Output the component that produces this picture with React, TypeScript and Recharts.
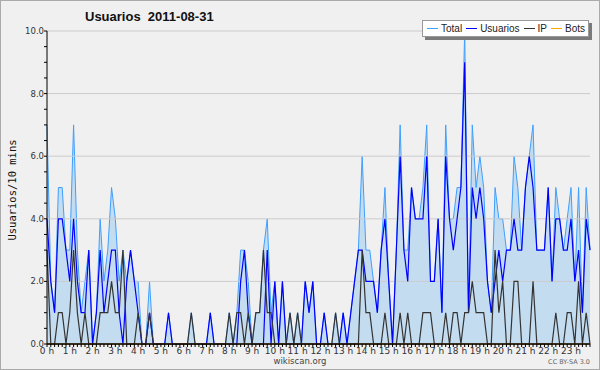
import React from 'react';
import { ComposedChart, Area, Line, XAxis, YAxis, ReferenceLine } from 'recharts';

// 10-minute buckets, 144 per day
const total = [
  7, 2, 1, 5, 5, 3, 3, 7, 3, 1, 2, 3, 0, 1, 4, 2, 3, 5, 4, 2, 3, 2, 3, 2,
  2, 0, 0, 2, 0, 0, 0, 0, 1, 0, 0, 0, 0, 0, 1, 0, 0, 0, 0, 1, 0, 0, 0, 0,
  1, 0, 1, 3, 3, 2, 0, 1, 1, 3, 4, 1, 2, 0, 2, 0, 1, 0, 1, 0, 2, 1, 2, 0,
  0, 1, 0, 0, 1, 0, 1, 0, 1, 2, 3, 6, 3, 3, 2, 1, 3, 5, 2, 0, 3, 7, 3, 3,
  5, 4, 4, 5, 7, 2, 2, 4, 1, 7, 4, 4, 5, 5, 10, 1, 7, 5, 6, 5, 2, 1, 5, 4,
  4, 3, 3, 6, 5, 3, 5, 6, 7, 3, 3, 3, 5, 2, 5, 4, 3, 4, 5, 2, 5, 1, 5, 3,
];
const usuarios = [
  4, 2, 1, 4, 4, 3, 2, 4, 2, 1, 1, 3, 0, 1, 3, 1, 2, 3, 3, 1, 0, 2, 3, 2,
  1, 0, 0, 1, 0, 0, 0, 0, 1, 0, 0, 0, 0, 0, 0, 0, 0, 0, 0, 1, 0, 0, 0, 0,
  0, 0, 0, 2, 3, 1, 0, 0, 0, 0, 3, 0, 2, 0, 2, 0, 0, 0, 0, 0, 2, 1, 2, 0,
  0, 1, 0, 0, 0, 0, 1, 0, 1, 2, 3, 3, 2, 2, 2, 1, 3, 4, 2, 0, 3, 6, 3, 2,
  5, 4, 4, 4, 6, 2, 2, 4, 1, 6, 4, 3, 4, 5, 9, 1, 5, 4, 5, 4, 2, 1, 2, 3,
  2, 3, 3, 4, 3, 3, 5, 6, 5, 3, 3, 3, 5, 2, 4, 4, 3, 3, 4, 2, 3, 1, 4, 3,
];
const ip = [
  3, 0, 0, 1, 1, 0, 1, 3, 1, 0, 1, 0, 0, 0, 1, 1, 1, 2, 1, 1, 3, 0, 0, 0,
  1, 0, 0, 1, 0, 0, 0, 0, 0, 0, 0, 0, 0, 0, 1, 0, 0, 0, 0, 0, 0, 0, 0, 0,
  1, 0, 1, 1, 0, 1, 0, 1, 1, 3, 1, 1, 0, 0, 0, 0, 1, 0, 1, 0, 0, 0, 0, 0,
  0, 0, 0, 0, 1, 0, 0, 0, 0, 0, 0, 3, 1, 1, 0, 0, 0, 1, 0, 0, 0, 1, 0, 1,
  0, 0, 0, 1, 1, 1, 0, 0, 0, 1, 0, 1, 1, 0, 1, 1, 2, 1, 1, 1, 0, 0, 3, 1,
  2, 0, 0, 2, 2, 0, 0, 0, 2, 0, 0, 0, 0, 0, 1, 0, 0, 1, 1, 0, 2, 0, 1, 0,
];
const bots = [
  0, 0, 0, 0, 0, 0, 0, 0, 0, 0, 0, 0, 0, 0, 0, 0, 0, 0, 0, 0, 0, 0, 0, 0,
  0, 0, 0, 0, 0, 0, 0, 0, 0, 0, 0, 0, 0, 0, 0, 0, 0, 0, 0, 0, 0, 0, 0, 0,
  0, 0, 0, 0, 0, 0, 0, 0, 0, 0, 0, 0, 0, 0, 0, 0, 0, 0, 0, 0, 0, 0, 0, 0,
  0, 0, 0, 0, 0, 0, 0, 0, 0, 0, 0, 0, 0, 0, 0, 0, 0, 0, 0, 0, 0, 0, 0, 0,
  0, 0, 0, 0, 0, 0, 0, 0, 0, 0, 0, 0, 0, 0, 0, 0, 0, 0, 0, 0, 0, 0, 0, 0,
  0, 0, 0, 0, 0, 0, 0, 0, 0, 0, 0, 0, 0, 0, 0, 0, 0, 0, 0, 0, 0, 0, 0, 0,
];

const hourLabels = [
  '0 h', '1 h', '2 h', '3 h', '4 h', '5 h', '6 h', '7 h', '8 h', '9 h', '10 h', '11 h',
  '12 h', '13 h', '14 h', '15 h', '16 h', '17 h', '18 h', '19 h', '20 h', '21 h', '22 h', '23 h',
];
const yTicks = [0, 0.5, 1, 1.5, 2, 2.5, 3, 3.5, 4, 4.5, 5, 5.5, 6, 6.5, 7, 7.5, 8, 8.5, 9, 9.5, 10];
const yGrid = [2, 4, 6, 8, 10];

const legendItems = [
  { name: 'Total', color: '#3f9fff' },
  { name: 'Usuarios', color: '#0000ff' },
  { name: 'IP', color: '#333333' },
  { name: 'Bots', color: '#ffa500' },
];

const font = '"DejaVu Sans", "Liberation Sans", sans-serif';

const XTick = (props: any) => {
  const { x, y, payload } = props;
  if (payload.value % 6 !== 0) return <g />;
  return (
    <text x={x} y={y} dy={5} textAnchor="middle" fontSize={9} fontFamily={font} fill="#333">
      {hourLabels[payload.value / 6]}
    </text>
  );
};

const YTick = (props: any) => {
  const { x, y, payload } = props;
  if (payload.value % 2 !== 0) return <g />;
  return (
    <text x={x + 2} y={y} dy={3} textAnchor="end" fontSize={8.5} fontFamily={font} fill="#333">
      {payload.value.toFixed(1)}
    </text>
  );
};

export default function App() {
  const data = total.map((t, i) => ({ i, total: t, usuarios: usuarios[i], ip: ip[i], bots: bots[i] }));
  const xTicks = data.map((d) => d.i);

  return (
    <div style={{ position: 'absolute', left: 0, top: 0, width: 600, height: 370, background: '#f0f0f0', fontFamily: font }}>
      <ComposedChart width={600} height={370} data={data} margin={{ top: 31, right: 10, bottom: 0, left: 0 }}>
        {yGrid.map((v) => (
          <ReferenceLine key={v} y={v} stroke="#cccccc" strokeWidth={1} />
        ))}
        <XAxis
          dataKey="i"
          type="number"
          domain={[0, 143]}
          ticks={xTicks}
          interval={0}
          tickSize={3}
          height={26}
          stroke="#000"
          tick={<XTick />}
        />
        <YAxis
          type="number"
          domain={[0, 10]}
          ticks={yTicks}
          interval={0}
          tickSize={3}
          width={47}
          stroke="#000"
          tick={<YTick />}
        />
        <Area
          type="linear"
          dataKey="total"
          stroke="#3f9fff"
          strokeWidth={1}
          fill="#c4dcf0"
          fillOpacity={1}
          isAnimationActive={false}
        />
        <Line type="linear" dataKey="usuarios" stroke="#0000ff" strokeWidth={1.2} dot={false} isAnimationActive={false} />
        <Line type="linear" dataKey="ip" stroke="#333333" strokeWidth={1.2} dot={false} isAnimationActive={false} />
        <Line type="linear" dataKey="bots" stroke="#ffa500" strokeWidth={1.2} dot={false} isAnimationActive={false} />
        <ReferenceLine y={0} stroke="#000" strokeWidth={1} />
      </ComposedChart>

      <div style={{ position: 'absolute', left: 85, top: 9, fontSize: 13, fontWeight: 'bold', fontFamily: '"Liberation Sans", sans-serif', color: '#111', whiteSpace: 'pre' }}>
        {'Usuarios  2011-08-31'}
      </div>

      <div
        style={{
          position: 'absolute', left: 422, top: 20, width: 165, height: 15, background: '#fff',
          border: '1px solid #999', boxShadow: '3px 3px 0 #7a7a7a', display: 'flex', alignItems: 'center',
          fontSize: 10, fontFamily: '"Liberation Sans", sans-serif', color: '#222',
        }}
      >
        {legendItems.map((it) => (
          <div key={it.name} style={{ display: 'flex', alignItems: 'center', marginLeft: 4 }}>
            <span style={{ display: 'inline-block', width: 11, height: 1, background: it.color, marginRight: 3 }} />
            <span>{it.name}</span>
          </div>
        ))}
      </div>

      <div style={{ position: 'absolute', left: 12, top: 190, transform: 'translate(-50%, -50%) rotate(-90deg)', fontSize: 10.5, fontFamily: '"DejaVu Sans Mono", monospace', color: '#111', whiteSpace: 'nowrap' }}>
        Usuarios/10 mins
      </div>

      <div style={{ position: 'absolute', left: 0, width: 600, top: 357, lineHeight: '9px', textAlign: 'center', fontSize: 8.5, color: '#444' }}>
        wikiscan.org
      </div>
      <div style={{ position: 'absolute', right: 10, top: 359, lineHeight: '7px', fontSize: 6.5, color: '#666' }}>CC BY-SA 3.0</div>

      <div style={{ position: 'absolute', left: 0, top: 0, width: 600, height: 370, boxSizing: 'border-box', border: '1px solid #aaa', pointerEvents: 'none' }} />
    </div>
  );
}
